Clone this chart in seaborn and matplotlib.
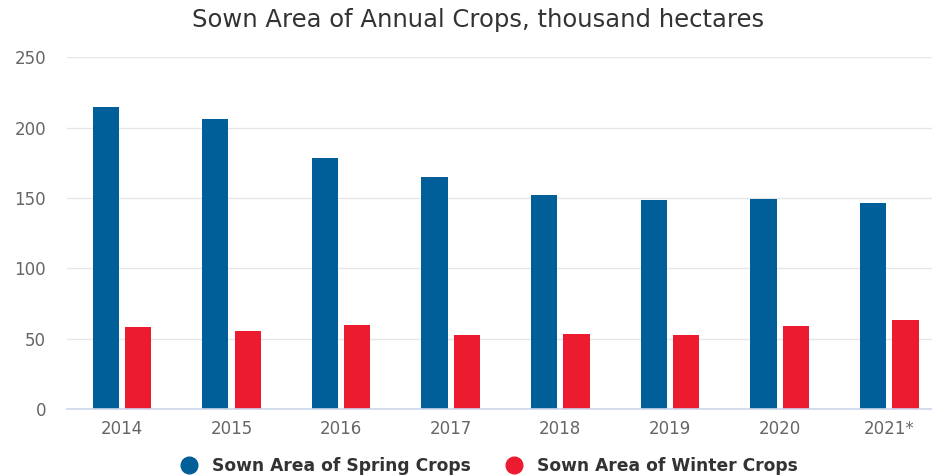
import matplotlib
matplotlib.use("Agg")
import matplotlib.pyplot as plt
from matplotlib.lines import Line2D
import seaborn as sns
import pandas as pd

years = ["2014", "2015", "2016", "2017", "2018", "2019", "2020", "2021*"]
spring = [214.9, 206.1, 178.4, 165.1, 151.9, 148.3, 149.3, 146.6]
winter = [58.1, 55.2, 59.7, 52.6, 53.5, 52.6, 59.0, 63.3]
series_names = ["Sown Area of Spring Crops", "Sown Area of Winter Crops"]
colors = ["#005F99", "#EC1B30"]

df = pd.DataFrame({
    "year": years * 2,
    "value": spring + winter,
    "series": [series_names[0]] * len(years) + [series_names[1]] * len(years),
})

sns.set_theme(style="white")
plt.rcParams["font.family"] = ["DejaVu Sans"]

fig = plt.figure(figsize=(9.32, 4.75), dpi=100)
ax = fig.add_axes([0.0719, 0.139, 0.9281, 0.740])

sns.barplot(data=df, x="year", y="value", hue="series", order=years,
            hue_order=series_names, palette=colors, width=0.59, gap=0.19,
            saturation=1, ax=ax, legend=False, edgecolor="none")

ax.set_ylim(0, 250)
ax.set_xlim(-0.5, 7.39)
ax.set_yticks([0, 50, 100, 150, 200, 250])
ax.yaxis.grid(True, color="#e6e6e6", linewidth=1)
ax.set_axisbelow(True)
for s in ["top", "right", "left"]:
    ax.spines[s].set_visible(False)
ax.spines["bottom"].set_color("#ccd6eb")
ax.spines["bottom"].set_linewidth(1.2)
ax.tick_params(axis="both", length=0, labelsize=12, labelcolor="#666666")
ax.tick_params(axis="y", pad=15)
ax.tick_params(axis="x", pad=8)
ax.set_xlabel("")
ax.set_ylabel("")

fig.text(0.513, 0.957, "Sown Area of Annual Crops, thousand hectares",
         ha="center", va="center", fontsize=17.5, color="#333333")

handles = [Line2D([0], [0], marker="o", linestyle="none", markersize=12,
                  markerfacecolor=c, markeredgecolor=c) for c in colors]
fig.legend(handles, series_names, loc="center", bbox_to_anchor=(0.52, 0.019),
           ncol=2, frameon=False, handletextpad=0.35, columnspacing=1.5,
           prop={"weight": "bold", "size": 12.3}, labelcolor="#333333")

fig.savefig("out.png", dpi=100)
